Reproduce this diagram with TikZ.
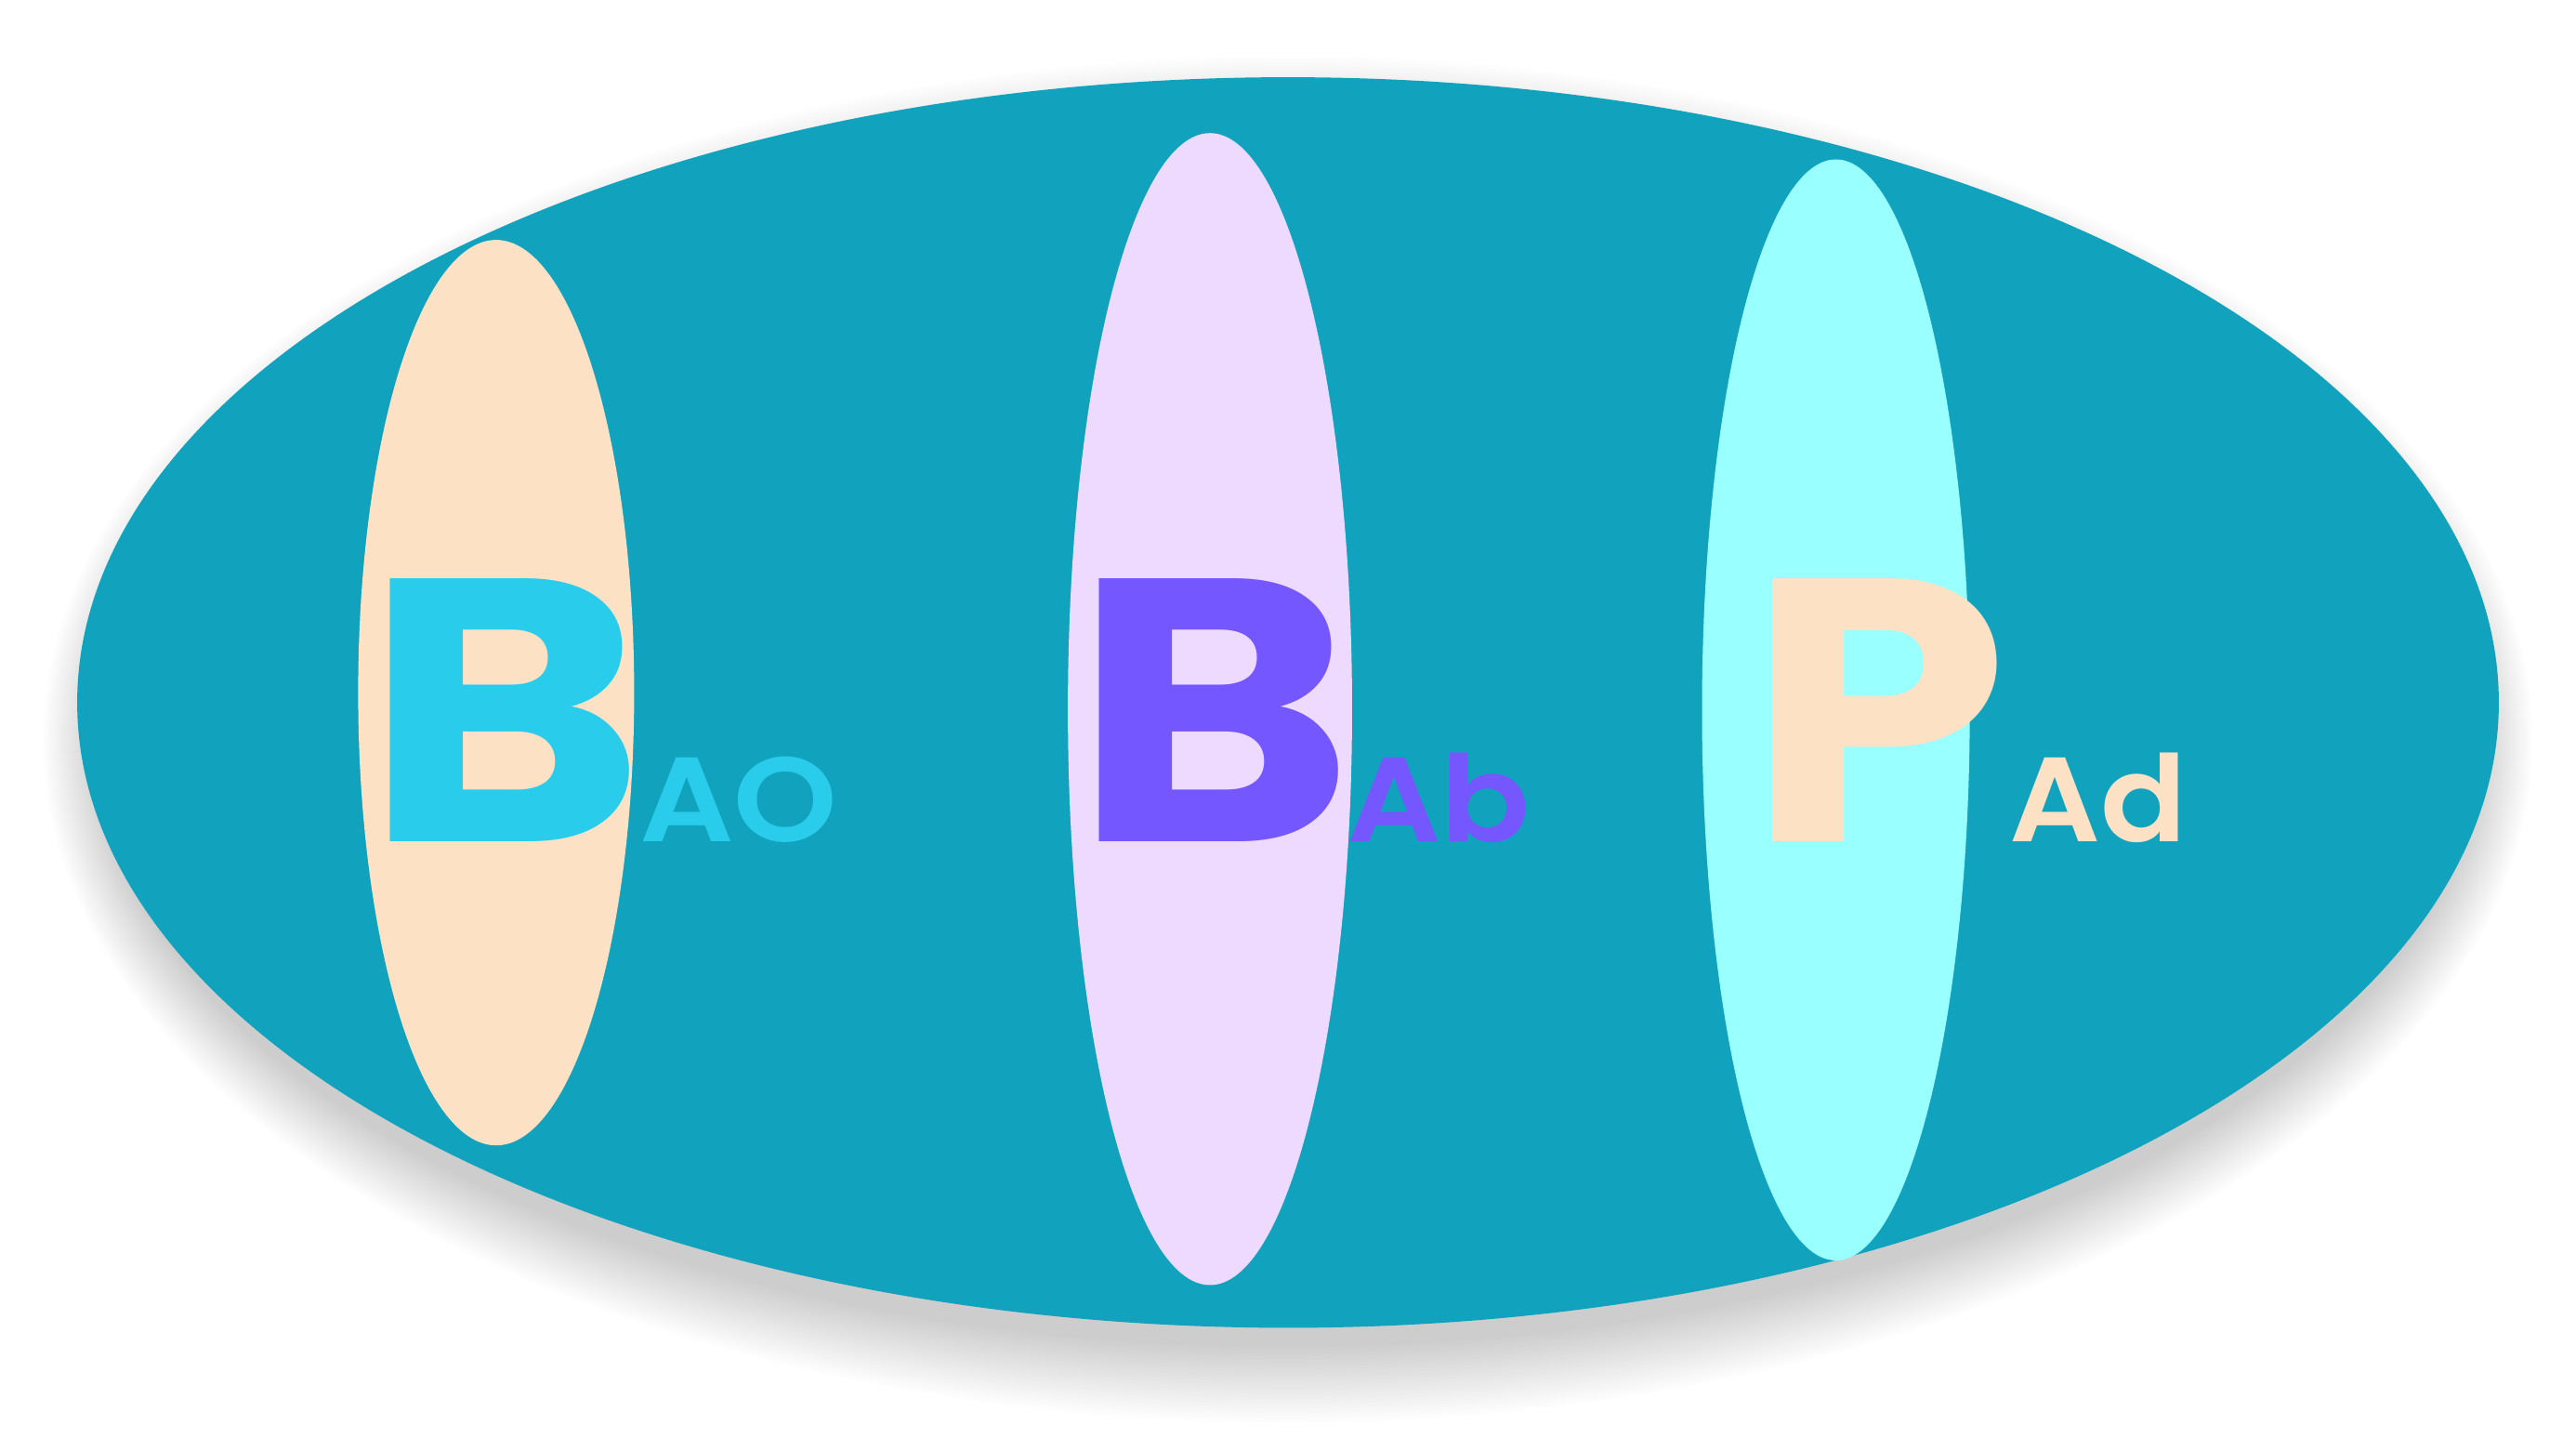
\documentclass[tikz,border=0pt]{standalone}
\usepackage{fontspec}
\usetikzlibrary{shapes.geometric}
\setmainfont{Poppins}
\newfontfamily\popbold{Poppins Bold}
\newfontfamily\popsemi{Poppins SemiBold}
\definecolor{tealbg}{HTML}{11A3BE}
\definecolor{peach}{HTML}{FDE1C5}
\definecolor{lav}{HTML}{EED9FF}
\definecolor{aqua}{HTML}{99FFFF}
\definecolor{cyanl}{HTML}{29CDEB}
\definecolor{purp}{HTML}{7457FF}
\tikzset{
  oval/.style={ellipse, inner sep=0pt, draw=none},
  bigletter/.style={inner sep=0pt, anchor=base west, font=\popbold\fontsize{228}{228}\selectfont},
  subletter/.style={inner sep=0pt, anchor=base west, font=\popsemi\fontsize{73}{73}\selectfont},
}
\begin{document}
\begin{tikzpicture}[x=1pt,y=-1pt]
\useasboundingbox (0,0) rectangle (1568,875);
\fill[white] (0,0) rectangle (1568,875);
% shadow
\foreach \i in {0,...,24}{
  \fill[black,opacity=0.006] (784,450) ellipse ({724+\i*1.4} and {370+\i*1.9});
}
\node[oval, fill=tealbg, minimum width=1474pt, minimum height=761pt] (big) at (784,427.5) {};
\node[oval, fill=peach, minimum width=168pt, minimum height=551pt] (e1) at (302,421.5) {};
\node[oval, fill=lav, minimum width=173pt, minimum height=701pt] (e2) at (736.5,431.5) {};
\node[oval, fill=aqua, minimum width=163pt, minimum height=670pt] (e3) at (1117.5,432) {};
\node[bigletter, text=cyanl, xscale=1.14] (b1) at (221,512) {B};
\node[subletter, text=cyanl, xscale=1.1] (s1) at (389,512) {AO};
\node[bigletter, text=purp, xscale=1.14] (b2) at (653,512) {B};
\node[subletter, text=purp, xscale=1.1] (s2) at (819.5,512) {Ab};
\node[bigletter, text=peach, xscale=1.12] (b3) at (1063,512) {P};
\node[subletter, text=peach, xscale=1.06] (s3) at (1223,512) {Ad};
\end{tikzpicture}
\end{document}
